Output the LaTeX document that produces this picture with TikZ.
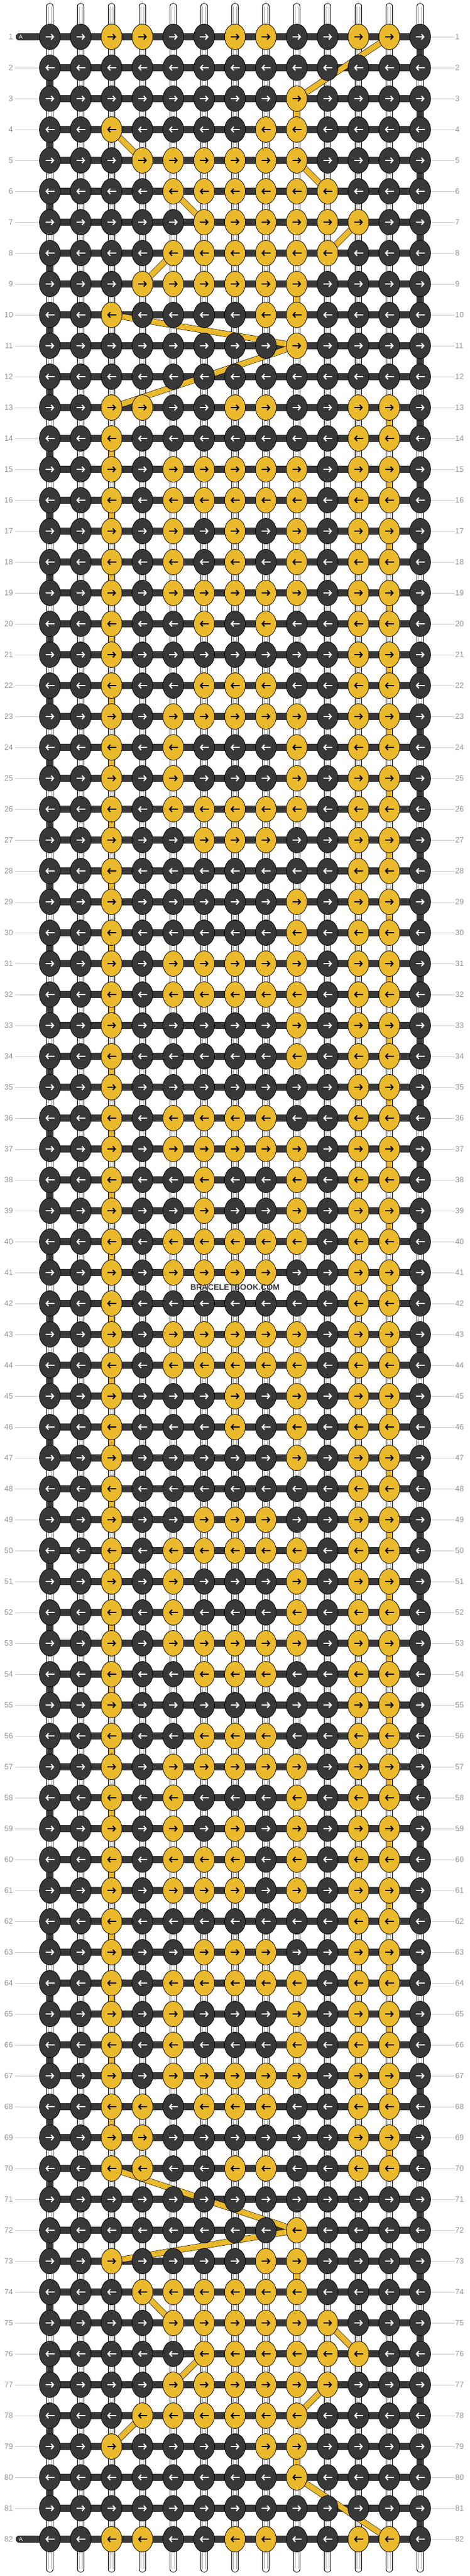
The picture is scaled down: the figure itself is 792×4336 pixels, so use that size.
\documentclass[tikz,border=0pt]{standalone}
\usepackage{fontspec}
\setmainfont{Liberation Sans}
\usetikzlibrary{shapes.geometric,arrows.meta}

\definecolor{knotdark}{RGB}{56,56,56}
\definecolor{knotgold}{RGB}{234,185,44}
\definecolor{numgray}{RGB}{150,150,150}
\definecolor{rulegray}{RGB}{200,200,200}
\definecolor{warpgray}{RGB}{170,170,170}

\tikzset{
  knot/.style={ellipse, draw=black, line width=0.8pt, fill=knot#1, minimum width=35pt, minimum height=43pt, inner sep=0pt},
  knotarrow/.style={line width=2pt, -{Straight Barb[length=4pt, width=9pt]}},
  warpstrip/.style={draw=black, line width=0.8pt, double=white, double distance=9.7pt, line cap=round},
  warpline/.style={draw=warpgray, line width=0.7pt},
  hbar/.style={draw=black, line width=0.6pt, double=knotdark, double distance=11.5pt},
  vlink/.style={draw=black, line width=0.8pt, double=#1, double distance=9.7pt},
  skip/.style={draw=black, line width=0.6pt, double=knotgold, double distance=9pt},
  rowrule/.style={draw=rulegray, line width=0.8pt},
  rownum/.style={text=numgray, font=\fontsize{13}{15}\selectfont, inner sep=0pt},
}

\begin{document}
\begin{tikzpicture}[x=1pt, y=-1pt]
  \useasboundingbox (0,0) rectangle (792,4336);

  % grid points
  \foreach \r in {1,...,82}{
    \foreach \c in {1,...,13}{
      \coordinate (p-\r-\c) at ({84+52*(\c-1)}, {62+52*(\r-1)});
    }
  }

  % warps
  \foreach \c in {1,...,13}{
    \coordinate (wt-\c) at ({84+52*(\c-1)}, 10.7);
    \coordinate (wb-\c) at ({84+52*(\c-1)}, 4324.4);
    \draw[warpstrip] (wt-\c) -- (wb-\c);
    \draw[warpline] ([xshift=-2.2pt]wt-\c) -- ([xshift=-2.2pt]wb-\c);
    \draw[warpline] ([xshift=2.2pt]wt-\c) -- ([xshift=2.2pt]wb-\c);
  }

  % row numbers and rows
  \foreach \r in {1,...,82}{
    \coordinate (rl-\r) at (26, {62+52*(\r-1)});
    \coordinate (rr-\r) at (766, {62+52*(\r-1)});
    \draw[rowrule] (p-\r-13) -- (rr-\r);
    \ifnum\r>1 \ifnum\r<82 \draw[rowrule] (rl-\r) -- (p-\r-1); \fi\fi
    \node[rownum, anchor=east] (nl-\r) at (22, {62+52*(\r-1)}) {\r};
    \node[rownum, anchor=west] (nr-\r) at (767, {62+52*(\r-1)}) {\r};
    \draw[hbar] (p-\r-1) -- (p-\r-13);
  }

  % A tabs
  \foreach \r in {1,82}{
    \coordinate (tab-\r) at (33, {62+52*(\r-1)});
    \draw[hbar, line cap=round] (tab-\r) -- (p-\r-1);
    \node[text=white, font=\fontsize{9.5}{10}\selectfont, inner sep=0pt] (a-\r) at (35, {62+52*(\r-1)}) {A};
  }

  % turns at the edges
  \foreach \r in {2,4,...,80}{
    \pgfmathtruncatemacro\s{\r+1}
    \draw[vlink=knotdark] (p-\r-1) -- (p-\s-1);
  }
  \foreach \r in {1,3,...,81}{
    \pgfmathtruncatemacro\s{\r+1}
    \draw[vlink=knotdark] (p-\r-13) -- (p-\s-13);
  }

  % gold thread going down
  \foreach \r/\c in {3/9, 9/9, 73/9, 79/9}{
    \pgfmathtruncatemacro\s{\r+1}
    \draw[vlink=knotgold] (p-\r-\c) -- (p-\s-\c);
  }
  \foreach \r in {13,15,...,69}{
    \pgfmathtruncatemacro\s{\r+1}
    \draw[vlink=knotgold] (p-\r-12) -- (p-\s-12);
  }
  \foreach \r in {14,16,...,68}{
    \pgfmathtruncatemacro\s{\r+1}
    \draw[vlink=knotgold] (p-\r-3) -- (p-\s-3);
  }

  % gold thread jumps
  \foreach \a/\b in {1-12/3-9, 4-3/5-4, 5-9/6-10, 6-5/7-6, 7-11/8-10, 8-5/9-4,
                     10-3/11-9, 11-9/13-3, 70-3/72-9, 72-9/73-3, 74-4/75-5,
                     75-10/76-11, 76-6/77-5, 77-10/78-9, 78-4/79-3, 80-9/82-12}{
    \draw[skip] (p-\a) -- (p-\b);
  }

  % knots
  \foreach \r/\ys in {
      1/{3,4,7,8,11,12}, 2/{0}, 3/{9}, 4/{3,8,9}, 5/{4,5,6,7,8,9},
      6/{5,6,7,8,9,10}, 7/{6,7,8,9,10,11}, 8/{5,6,7,8,9,10}, 9/{4,5,6,7,8,9},
      10/{3,8,9}, 11/{9}, 12/{0}, 13/{3,4,7,8,11,12}, 14/{3,11,12},
      15/{3,5,6,7,8,9,11,12}, 16/{3,5,6,7,8,9,11,12}, 17/{3,5,7,9,11,12},
      18/{3,5,7,9,11,12}, 19/{3,5,6,7,8,9,11,12}, 20/{3,6,8,11,12},
      21/{3,11,12}, 22/{3,6,7,8,11,12}, 23/{3,5,6,7,8,9,11,12},
      24/{3,5,9,11,12}, 25/{3,5,9,11,12}, 26/{3,5,6,7,8,9,11,12},
      27/{3,6,7,8,11,12}, 28/{3,11,12}, 29/{3,9,11,12}, 30/{3,9,11,12},
      31/{3,5,6,7,8,9,11,12}, 32/{3,5,6,7,8,9,11,12}, 33/{3,9,11,12},
      34/{3,9,11,12}, 35/{3,11,12}, 36/{3,5,6,7,8,11,12},
      37/{3,5,6,7,8,9,11,12}, 38/{3,6,9,11,12}, 39/{3,6,9,11,12},
      40/{3,5,6,7,8,9,11,12}, 41/{3,5,6,7,8,11,12}, 42/{3,11,12},
      43/{3,5,6,7,8,9,11,12}, 44/{3,5,6,7,8,9,11,12}, 45/{3,7,9,11,12},
      46/{3,7,9,11,12}, 47/{3,9,11,12}, 48/{3,11,12}, 49/{3,6,7,8,11,12},
      50/{3,5,6,7,8,9,11,12}, 51/{3,5,9,11,12}, 52/{3,5,9,11,12},
      53/{3,5,6,7,8,9,11,12}, 54/{3,6,7,8,11,12}, 55/{3,11,12},
      56/{3,6,7,8,11,12}, 57/{3,5,6,7,8,9,11,12}, 58/{3,5,9,11,12},
      59/{3,5,7,9,11,12}, 60/{3,5,6,7,9,11,12}, 61/{3,5,6,7,9,11,12},
      62/{3,11,12}, 63/{3,6,7,8,11,12}, 64/{3,5,6,7,8,9,11,12},
      65/{3,5,9,11,12}, 66/{3,5,9,11,12}, 67/{3,5,6,7,8,9,11,12},
      68/{3,4,6,7,8,11,12}, 69/{3,4,11,12}, 70/{3,4,7,8,11,12}, 71/{0},
      72/{9}, 73/{3,8,9}, 74/{4,5,6,7,8,9}, 75/{5,6,7,8,9,10},
      76/{6,7,8,9,10,11}, 77/{5,6,7,8,9,10}, 78/{4,5,6,7,8,9}, 79/{3,8,9},
      80/{9}, 81/{0}, 82/{3,4,7,8,11,12}}{
    \ifodd\r\relax \def\ax{-7.5}\def\bx{15}\else \def\ax{7.5}\def\bx{-15}\fi
    \foreach \c in {1,...,13}{
      \gdef\kc{dark}\gdef\ac{white}
      \foreach \y in \ys {\ifnum\y=\c\relax \gdef\kc{gold}\gdef\ac{black}\fi}
      \node[knot=\kc] (k-\r-\c) at (p-\r-\c) {};
      \draw[knotarrow, draw=\ac] (k-\r-\c.center) ++(\ax,0) -- ++(\bx,0);
    }
  }

  % watermark
  \node[text=knotdark, font=\bfseries\fontsize{13.6}{15}\selectfont, inner sep=0pt] (mark) at (396,2167) {BRACELETBOOK.COM};
\end{tikzpicture}
\end{document}
